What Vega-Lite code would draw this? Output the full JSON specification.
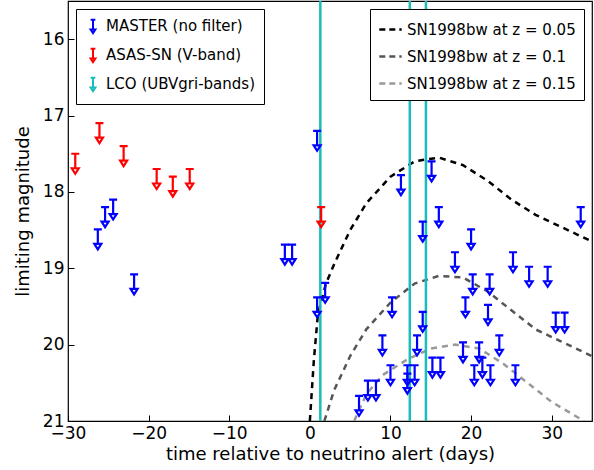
{
  "$schema": "https://vega.github.io/schema/vega-lite/v6.json",
  "autosize": "none",
  "width": 524,
  "height": 420,
  "padding": {"left": 68, "top": 1, "right": 2, "bottom": 49},
  "datasets": {
    "limits": [
      {"t": -26.3, "mag": 18.49, "series": "MASTER (no filter)"},
      {"t": -25.4, "mag": 18.2, "series": "MASTER (no filter)"},
      {"t": -24.4, "mag": 18.1, "series": "MASTER (no filter)"},
      {"t": -21.8, "mag": 19.08, "series": "MASTER (no filter)"},
      {"t": -3.1, "mag": 18.69, "series": "MASTER (no filter)"},
      {"t": -2.2, "mag": 18.69, "series": "MASTER (no filter)"},
      {"t": 0.9, "mag": 17.2, "series": "MASTER (no filter)"},
      {"t": 0.9, "mag": 19.38, "series": "MASTER (no filter)"},
      {"t": 1.9, "mag": 19.19, "series": "MASTER (no filter)"},
      {"t": 6.1, "mag": 20.67, "series": "MASTER (no filter)"},
      {"t": 7.2, "mag": 20.47, "series": "MASTER (no filter)"},
      {"t": 8.2, "mag": 20.47, "series": "MASTER (no filter)"},
      {"t": 9.0, "mag": 19.88, "series": "MASTER (no filter)"},
      {"t": 10.0, "mag": 20.27, "series": "MASTER (no filter)"},
      {"t": 10.2, "mag": 19.38, "series": "MASTER (no filter)"},
      {"t": 11.3, "mag": 17.78, "series": "MASTER (no filter)"},
      {"t": 12.1, "mag": 20.27, "series": "MASTER (no filter)"},
      {"t": 12.1, "mag": 20.38, "series": "MASTER (no filter)"},
      {"t": 13.0, "mag": 20.27, "series": "MASTER (no filter)"},
      {"t": 13.3, "mag": 19.88, "series": "MASTER (no filter)"},
      {"t": 14.0, "mag": 18.39, "series": "MASTER (no filter)"},
      {"t": 14.0, "mag": 19.57, "series": "MASTER (no filter)"},
      {"t": 15.1, "mag": 17.6, "series": "MASTER (no filter)"},
      {"t": 15.2, "mag": 20.17, "series": "MASTER (no filter)"},
      {"t": 16.2, "mag": 20.17, "series": "MASTER (no filter)"},
      {"t": 16.0, "mag": 18.2, "series": "MASTER (no filter)"},
      {"t": 18.0, "mag": 18.79, "series": "MASTER (no filter)"},
      {"t": 19.0, "mag": 19.97, "series": "MASTER (no filter)"},
      {"t": 19.3, "mag": 19.38, "series": "MASTER (no filter)"},
      {"t": 20.0, "mag": 18.49, "series": "MASTER (no filter)"},
      {"t": 20.2, "mag": 19.08, "series": "MASTER (no filter)"},
      {"t": 20.4, "mag": 20.27, "series": "MASTER (no filter)"},
      {"t": 21.0, "mag": 19.97, "series": "MASTER (no filter)"},
      {"t": 21.4, "mag": 20.17, "series": "MASTER (no filter)"},
      {"t": 22.3, "mag": 19.08, "series": "MASTER (no filter)"},
      {"t": 22.1, "mag": 19.48, "series": "MASTER (no filter)"},
      {"t": 22.4, "mag": 20.27, "series": "MASTER (no filter)"},
      {"t": 23.5, "mag": 19.88, "series": "MASTER (no filter)"},
      {"t": 25.2, "mag": 18.79, "series": "MASTER (no filter)"},
      {"t": 25.5, "mag": 20.27, "series": "MASTER (no filter)"},
      {"t": 27.2, "mag": 18.98, "series": "MASTER (no filter)"},
      {"t": 29.5, "mag": 18.98, "series": "MASTER (no filter)"},
      {"t": 30.5, "mag": 19.58, "series": "MASTER (no filter)"},
      {"t": 31.6, "mag": 19.58, "series": "MASTER (no filter)"},
      {"t": 33.6, "mag": 18.2, "series": "MASTER (no filter)"},
      {"t": -29.1, "mag": 17.5, "series": "ASAS-SN (V-band)"},
      {"t": -26.1, "mag": 17.1, "series": "ASAS-SN (V-band)"},
      {"t": -23.1, "mag": 17.4, "series": "ASAS-SN (V-band)"},
      {"t": -19.0, "mag": 17.7, "series": "ASAS-SN (V-band)"},
      {"t": -17.0, "mag": 17.8, "series": "ASAS-SN (V-band)"},
      {"t": -14.9, "mag": 17.7, "series": "ASAS-SN (V-band)"},
      {"t": 1.4, "mag": 18.2, "series": "ASAS-SN (V-band)"}
    ],
    "lco": [
      {"t": 1.3, "series": "LCO (UBVgri-bands)"},
      {"t": 12.4, "series": "LCO (UBVgri-bands)"},
      {"t": 14.4, "series": "LCO (UBVgri-bands)"}
    ],
    "curves": [
      {"t": 0, "mag": 21.0, "z": "SN1998bw at z = 0.05"},
      {"t": 0.5, "mag": 20.2, "z": "SN1998bw at z = 0.05"},
      {"t": 1, "mag": 19.6, "z": "SN1998bw at z = 0.05"},
      {"t": 2, "mag": 19.2, "z": "SN1998bw at z = 0.05"},
      {"t": 3, "mag": 18.95, "z": "SN1998bw at z = 0.05"},
      {"t": 5, "mag": 18.5, "z": "SN1998bw at z = 0.05"},
      {"t": 7, "mag": 18.15, "z": "SN1998bw at z = 0.05"},
      {"t": 10, "mag": 17.8, "z": "SN1998bw at z = 0.05"},
      {"t": 13, "mag": 17.6, "z": "SN1998bw at z = 0.05"},
      {"t": 16, "mag": 17.55, "z": "SN1998bw at z = 0.05"},
      {"t": 19, "mag": 17.65, "z": "SN1998bw at z = 0.05"},
      {"t": 22, "mag": 17.85, "z": "SN1998bw at z = 0.05"},
      {"t": 25, "mag": 18.1, "z": "SN1998bw at z = 0.05"},
      {"t": 28, "mag": 18.3, "z": "SN1998bw at z = 0.05"},
      {"t": 31, "mag": 18.45, "z": "SN1998bw at z = 0.05"},
      {"t": 35, "mag": 18.65, "z": "SN1998bw at z = 0.05"},
      {"t": 1.8, "mag": 21.0, "z": "SN1998bw at z = 0.1"},
      {"t": 3, "mag": 20.6, "z": "SN1998bw at z = 0.1"},
      {"t": 5, "mag": 20.15, "z": "SN1998bw at z = 0.1"},
      {"t": 7, "mag": 19.8, "z": "SN1998bw at z = 0.1"},
      {"t": 10, "mag": 19.45, "z": "SN1998bw at z = 0.1"},
      {"t": 13, "mag": 19.2, "z": "SN1998bw at z = 0.1"},
      {"t": 16, "mag": 19.1, "z": "SN1998bw at z = 0.1"},
      {"t": 19, "mag": 19.12, "z": "SN1998bw at z = 0.1"},
      {"t": 22, "mag": 19.3, "z": "SN1998bw at z = 0.1"},
      {"t": 25, "mag": 19.55, "z": "SN1998bw at z = 0.1"},
      {"t": 28, "mag": 19.8, "z": "SN1998bw at z = 0.1"},
      {"t": 31, "mag": 19.95, "z": "SN1998bw at z = 0.1"},
      {"t": 35, "mag": 20.15, "z": "SN1998bw at z = 0.1"},
      {"t": 5.5, "mag": 21.0, "z": "SN1998bw at z = 0.15"},
      {"t": 7, "mag": 20.65, "z": "SN1998bw at z = 0.15"},
      {"t": 9, "mag": 20.4, "z": "SN1998bw at z = 0.15"},
      {"t": 12, "mag": 20.2, "z": "SN1998bw at z = 0.15"},
      {"t": 15, "mag": 20.05, "z": "SN1998bw at z = 0.15"},
      {"t": 18, "mag": 20.0, "z": "SN1998bw at z = 0.15"},
      {"t": 21, "mag": 20.05, "z": "SN1998bw at z = 0.15"},
      {"t": 24, "mag": 20.25, "z": "SN1998bw at z = 0.15"},
      {"t": 27, "mag": 20.5, "z": "SN1998bw at z = 0.15"},
      {"t": 30, "mag": 20.75, "z": "SN1998bw at z = 0.15"},
      {"t": 34, "mag": 21.0, "z": "SN1998bw at z = 0.15"}
    ]
  },
  "layer": [
    {
      "data": {"name": "curves"},
      "mark": {"type": "line", "strokeDash": [6, 5], "strokeWidth": 2.5, "clip": true},
      "encoding": {
        "x": {"field": "t", "type": "quantitative", "scale": {"domain": [-30, 35], "nice": false, "padding": 0, "zero": false}, "axis": {"values": [-30, -20, -10, 0, 10, 20, 30]}, "title": "time relative to neutrino alert (days)"},
        "y": {"field": "mag", "type": "quantitative", "scale": {"domain": [15.5, 21], "reverse": true, "nice": false, "padding": 0}, "axis": {"values": [16, 17, 18, 19, 20, 21]}, "title": "limiting magnitude"},
        "detail": {"field": "z"},
        "stroke": {
          "field": "z", "type": "nominal",
          "scale": {"domain": ["SN1998bw at z = 0.05", "SN1998bw at z = 0.1", "SN1998bw at z = 0.15"], "range": ["#000000", "#555555", "#999999"]},
          "legend": {
            "title": null, "orient": "top-right", "offset": 8,
            "symbolType": "stroke", "symbolStrokeWidth": 2.5, "symbolDash": [6, 4], "symbolSize": 500,
            "strokeColor": "black", "fillColor": "white", "padding": 8, "rowPadding": 6,
            "labelFontSize": 15, "labelLimit": 300
          }
        }
      }
    },
    {
      "data": {"name": "lco"},
      "mark": {"type": "rule", "strokeWidth": 2.5},
      "encoding": {
        "x": {"field": "t", "type": "quantitative"},
        "color": {"field": "series", "type": "nominal"}
      }
    },
    {
      "data": {"name": "limits"},
      "mark": {"type": "point", "filled": false, "size": 400, "strokeWidth": 2.2, "opacity": 1, "clip": true,
               "shape": "M-0.4,0H0.4M0,0V1.5M-0.35,1.45L0.35,1.45L0,2Z"},
      "encoding": {
        "x": {"field": "t", "type": "quantitative"},
        "y": {"field": "mag", "type": "quantitative"},
        "color": {
          "field": "series", "type": "nominal",
          "scale": {"domain": ["MASTER (no filter)", "ASAS-SN (V-band)", "LCO (UBVgri-bands)"], "range": ["#0000ff", "#ff0000", "#1abcbc"]},
          "legend": {
            "title": null, "orient": "top-left", "offset": 8,
            "symbolType": "M-0.3,-0.8H0.3M0,-0.8V0.5M-0.3,0.45L0.3,0.45L0,0.9Z",
            "symbolSize": 250, "symbolStrokeWidth": 2, "symbolFillColor": "transparent",
            "strokeColor": "black", "fillColor": "white", "padding": 8, "rowPadding": 6,
            "labelFontSize": 15, "labelLimit": 300
          }
        }
      }
    }
  ],
  "config": {
    "font": "DejaVu Sans",
    "view": {"stroke": "black", "strokeWidth": 1.2},
    "axis": {"grid": false, "domain": false, "tickSize": -6, "tickColor": "black", "labelFontSize": 17, "titleFontSize": 18, "titleFontWeight": "normal", "labelColor": "black", "titleColor": "black", "labelPadding": 10, "format": "d", "labelFlush": false, "labelOverlap": false},
    "axisX": {"titlePadding": 4},
    "axisY": {"titlePadding": 10},
    "legend": {"labelFont": "DejaVu Sans"}
  }
}
